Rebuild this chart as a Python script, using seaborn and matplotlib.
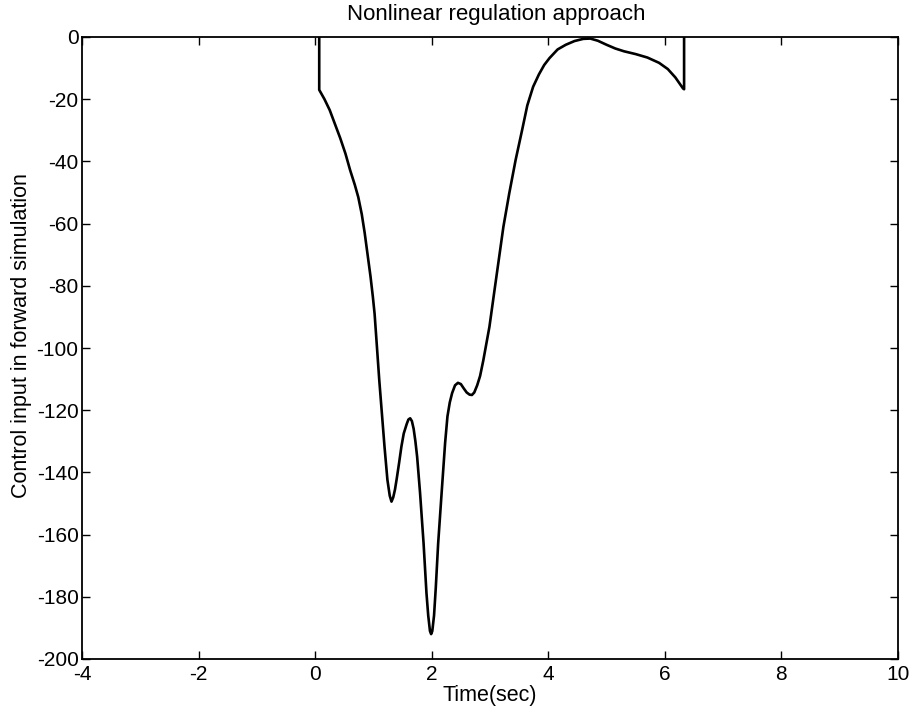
import matplotlib
matplotlib.use("Agg")
import matplotlib.pyplot as plt
import seaborn as sns
import pandas as pd

# Data
time_sec = [0.07, 0.07, 0.16, 0.25, 0.34, 0.43, 0.52, 0.60, 0.68, 0.74, 0.80,
            0.85, 0.90, 0.95, 0.99, 1.02, 1.06, 1.10, 1.145, 1.19, 1.24, 1.28,
            1.31, 1.34, 1.37, 1.40, 1.44, 1.48, 1.52, 1.57, 1.60, 1.63, 1.66,
            1.69, 1.72, 1.75, 1.80, 1.86, 1.91, 1.94, 1.97, 1.99, 2.01, 2.04,
            2.07, 2.11, 2.17, 2.23, 2.27, 2.31, 2.35, 2.40, 2.45, 2.50, 2.55,
            2.60, 2.65, 2.69, 2.73, 2.78, 2.83, 2.885, 2.99, 3.07, 3.15, 3.23,
            3.33, 3.44, 3.55, 3.64, 3.74, 3.84, 3.93, 4.02, 4.16, 4.30, 4.45,
            4.60, 4.72, 4.85, 5.00, 5.15, 5.30, 5.50, 5.70, 5.90, 6.05, 6.18,
            6.31, 6.33, 6.33]
control = [0.0, -17.0, -20.0, -23.5, -28.0, -32.5, -37.5, -42.8, -47.5, -51.5,
           -57.0, -63.0, -70.0, -77.0, -83.5, -89.0, -99.6, -110.3, -121.0,
           -131.7, -142.4, -147.5, -149.4, -148.0, -145.5, -142.0, -137.0,
           -131.7, -127.5, -124.5, -123.0, -122.6, -123.5, -126.0, -130.0,
           -135.0, -146.6, -162.7, -178.8, -186.0, -191.0, -192.0, -191.0,
           -186.0, -177.0, -163.0, -146.6, -130.5, -122.0, -117.5, -114.5,
           -112.0, -111.2, -111.6, -113.0, -114.3, -115.0, -115.1, -114.3,
           -112.0, -109.0, -104.0, -93.2, -82.4, -71.7, -61.0, -50.3, -39.5,
           -30.0, -22.0, -16.0, -12.0, -9.0, -6.8, -4.0, -2.5, -1.3, -0.6,
           -0.5, -1.2, -2.5, -3.7, -4.6, -5.5, -6.6, -8.3, -10.3, -13.0,
           -16.5, -16.8, 0.0]

x_ticks = [-4, -2, 0, 2, 4, 6, 8, 10]
y_ticks = [0, -20, -40, -60, -80, -100, -120, -140, -160, -180, -200]

title = "Nonlinear regulation approach"
x_label = "Time(sec)"
y_label = "Control input in forward simulation"

df = pd.DataFrame({"t": time_sec, "u": control})

sns.set_style("ticks")
plt.rcParams["font.family"] = ["Liberation Sans", "DejaVu Sans"]
plt.rcParams["text.color"] = "black"
plt.rcParams["axes.labelcolor"] = "black"

fig = plt.figure(figsize=(9.09, 7.17), dpi=100)
ax = fig.add_axes([82 / 909, 1 - 659 / 717, (898 - 82) / 909, (659 - 37) / 717])

sns.lineplot(data=df, x="t", y="u", sort=False, estimator=None,
             color="black", linewidth=1.9, ax=ax)

ax.set_xlim(-4, 10)
ax.set_ylim(-200, 0)
ax.set_xticks(x_ticks)
ax.set_yticks(y_ticks)
ax.set_xticklabels([str(v) for v in x_ticks])
ax.set_yticklabels([str(v) for v in y_ticks])
ax.tick_params(direction="in", length=6, width=1, top=True, right=True,
               labelsize=15, colors="black")
ax.tick_params(axis="y", pad=2.5)
ax.tick_params(axis="x", pad=4)
for s in ax.spines.values():
    s.set_visible(True)
    s.set_linewidth(1.3)
    s.set_color("black")

ax.set_title(title, fontsize=16, pad=12, x=0.508, color="black")
ax.set_xlabel(x_label, fontsize=15.5, labelpad=1)
ax.set_ylabel(y_label, fontsize=15.5)
ax.yaxis.set_label_coords(-0.061, 0.52)

fig.savefig("out.png", dpi=100, facecolor="white")
